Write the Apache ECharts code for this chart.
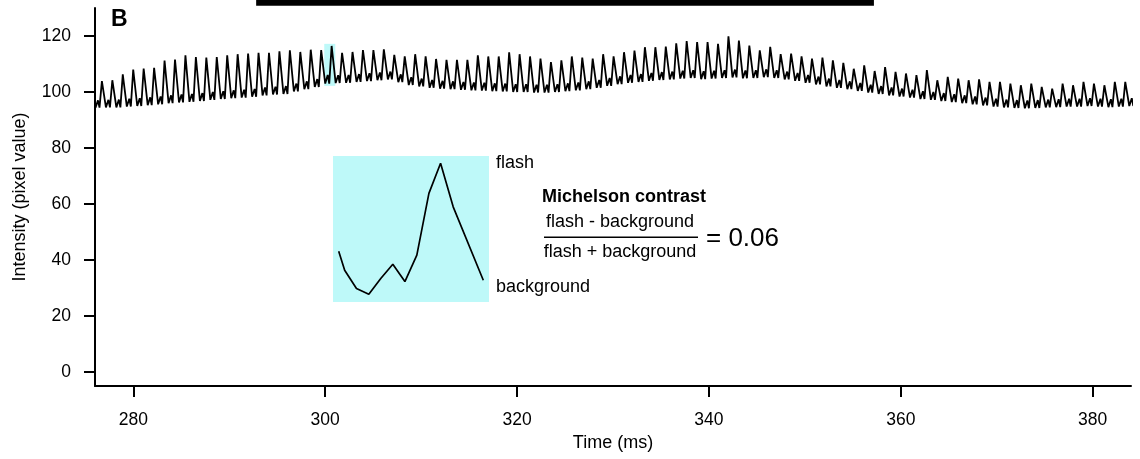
<!DOCTYPE html>
<html>
<head>
<meta charset="utf-8">
<script src="https://cdn.jsdelivr.net/npm/echarts@6/dist/echarts.min.js"></script>
<style>
  html, body { margin: 0; padding: 0; background: #fff; }
  #chart { width: 1140px; height: 459px; }
</style>
</head>
<body>
<div id="chart"></div>
<script>
// Axis ranges and tick labels
const xRange = [276, 384];
const yRange = [-5, 130];
const xTicks = [280, 300, 320, 340, 360, 380];
const yTicks = [0, 20, 40, 60, 80, 100, 120];

// Flicker trace: one entry per cycle (peak time of cycle k = firstPeak + k * period)
const firstPeak = 275.63;   // ms
const period = 1.0886;      // ms
const peaks = [
  100.0,
  103.9, 104.2, 106.3, 108.0, 108.4, 108.6, 111.2, 111.6, 113.1, 112.5,
  112.3, 112.5, 113.1, 113.5, 113.7, 114.0, 114.0, 114.5, 114.9, 114.3,
  115.1, 115.0, 116.45, 114.0, 114.3, 115.0, 115.0,
  115.2, 113.3, 112.7, 113.5, 112.7, 111.8, 111.5, 111.5, 111.5, 113.1,
  112.7, 112.7, 114.2, 113.5, 112.7, 111.9, 110.7, 111.3, 112.7, 112.3,
  111.9, 113.5, 112.7, 114.2, 114.8, 116.0, 116.0, 116.2, 117.4, 118.2,
  117.8, 117.8, 117.2, 119.9, 118.4, 116.6,
  114.9, 116.1, 113.5, 113.7, 112.7, 111.9, 112.3, 111.3, 110.4, 108.3,
  109.5, 107.5, 108.9, 107.2, 106.6, 106.0, 107.8, 104.2, 105.4, 104.8,
  104.2, 104.5, 103.6, 103.6, 103.0, 102.4, 103.0, 101.8, 101.2, 103.0,
  102.4, 103.6, 103.0, 102.4, 103.6, 103.6
];
// valley floor after each peak
const lows = [
  94.4,
  94.5, 94.5, 94.8, 95.0, 95.3, 95.6, 96.0, 96.3, 96.5, 96.8,
  97.2, 97.5, 97.8, 98.0, 98.3, 98.8, 99.1, 99.3, 100.2, 101.0,
  101.8, 103.0, 103.2, 103.3, 103.6, 103.9, 104.2,
  104.5, 103.5, 102.5, 102.0, 101.5, 101.2, 101.0, 100.8, 100.6, 100.5,
  100.3, 100.2, 100.0, 100.0, 99.8, 99.8, 100.0, 100.3, 100.6, 101.0,
  101.5, 102.2, 102.8, 103.3, 103.6, 104.0, 104.3, 104.5, 104.8, 105.0,
  104.6, 104.8, 105.0, 105.2, 104.9, 105.0,
  105.3, 105.0, 104.5, 104.0, 103.3, 102.7, 102.0, 101.5, 101.0, 100.4,
  99.8, 99.3, 98.8, 98.4, 98.0, 97.5, 97.2, 96.8, 96.4, 96.0,
  95.6, 95.2, 94.8, 94.5, 94.3, 94.2, 94.3, 94.5, 94.6, 94.8,
  94.8, 95.0, 94.8, 94.6, 94.8, 95.0
];
// small secondary bump inside each valley
const bumps = [
  97.0,
  97.2, 97.3, 97.6, 97.8, 98.1, 98.4, 98.8, 99.1, 99.3, 99.6,
  100.0, 100.3, 100.6, 100.8, 101.1, 101.6, 101.9, 102.1, 103.0, 103.8,
  104.6, 106.1, 106.0, 106.1, 106.4, 106.7, 107.0,
  107.3, 106.3, 105.3, 104.8, 104.3, 104.0, 103.8, 103.6, 103.4, 103.3,
  103.1, 103.0, 102.8, 102.8, 102.6, 102.6, 102.8, 103.1, 103.4, 103.8,
  104.3, 105.0, 105.6, 106.1, 106.4, 106.8, 107.1, 107.3, 107.6, 107.8,
  107.4, 107.6, 107.8, 108.0, 107.7, 107.8,
  108.1, 107.8, 107.3, 106.8, 106.1, 105.5, 104.8, 104.3, 103.8, 103.2,
  102.6, 102.1, 101.6, 101.2, 100.8, 100.3, 100.0, 99.6, 99.2, 98.8,
  98.4, 98.0, 97.6, 97.3, 97.1, 97.0, 97.1, 97.3, 97.4, 97.6,
  97.6, 97.8, 97.6, 97.4, 97.6, 97.8
];
// phase (ms after the peak) of the valley floor, bump and pre-rise dip
const phaseLow = 0.42, phaseBump = 0.68, phaseDip = 0.84;

// Magnified single flash (time in ms, intensity)
const flashTimes = [299.942, 299.986, 300.073, 300.164, 300.252, 300.341,
                    300.430, 300.518, 300.607, 300.693, 300.786, 301.008];
const flashValues = [107.42, 105.46, 103.58, 102.99, 104.61, 106.08,
                     104.30, 107.01, 113.36, 116.45, 111.98, 104.43];
// window of the trace shown magnified
const zoomX = [299.9, 301.05];
const zoomY = [102.2, 117.2];

// stimulus bar above the plot (ms)
const stimulus = [292.8, 357.2];

const FONT = '"Liberation Sans", Arial, Helvetica, sans-serif';
const CYAN = '#bef9f9';

const trace = [];
for (let k = 0; k < peaks.length; k++) {
  const t = firstPeak + k * period;
  trace.push([t, peaks[k]]);
  trace.push([t + phaseLow, lows[k]]);
  trace.push([t + phaseBump, bumps[k]]);
  trace.push([t + phaseDip, lows[k]]);
}
const flash = flashTimes.map((t, i) => [t, flashValues[i]]);
const fMax = Math.max(...flashValues), fMin = Math.min(...flashValues);
const contrast = (fMax - fMin) / (fMax + fMin);

const chart = echarts.init(document.getElementById('chart'), null, { renderer: 'canvas' });

const axisCommon = {
  axisLine: { onZero: false, lineStyle: { color: '#000', width: 2 } },
  splitLine: { show: false },
  nameTextStyle: { fontSize: 18, color: '#000', fontFamily: FONT }
};

const option = {
  animation: false,
  backgroundColor: '#fff',
  grid: [
    { left: 95, right: 9, top: 8, bottom: 73 },
    { left: 333, top: 156, width: 156, height: 146, show: true,
      backgroundColor: CYAN, borderWidth: 0 }
  ],
  xAxis: [
    Object.assign({}, axisCommon, {
      type: 'value', min: xRange[0], max: xRange[1],
      name: 'Time (ms)', nameLocation: 'middle', nameGap: 45,
      axisTick: { customValues: xTicks, length: 11, lineStyle: { color: '#000', width: 2 } },
      axisLabel: { customValues: xTicks, margin: 25, fontSize: 17.5, color: '#000', fontFamily: FONT }
    }),
    { type: 'value', gridIndex: 1, min: zoomX[0], max: zoomX[1], show: false, splitLine: { show: false } }
  ],
  yAxis: [
    Object.assign({}, axisCommon, {
      type: 'value', min: yRange[0], max: yRange[1],
      name: 'Intensity (pixel value)', nameLocation: 'middle', nameGap: 66,
      axisTick: { customValues: yTicks, length: 11, lineStyle: { color: '#000', width: 2 } },
      axisLabel: { customValues: yTicks, margin: 24, fontSize: 17.5, color: '#000', fontFamily: FONT }
    }),
    { type: 'value', gridIndex: 1, min: zoomY[0], max: zoomY[1], show: false, splitLine: { show: false } }
  ],
  series: [
    {
      type: 'line', xAxisIndex: 0, yAxisIndex: 0, data: trace,
      symbol: 'none', lineStyle: { color: '#000', width: 1.8 }, z: 3,
      markArea: {
        silent: true,
        itemStyle: { color: CYAN },
        data: [[{ coord: [zoomX[0], zoomY[0]] }, { coord: [zoomX[1], zoomY[1]] }]]
      }
    },
    {
      type: 'line', xAxisIndex: 1, yAxisIndex: 1, data: flash,
      symbol: 'none', lineStyle: { color: '#000', width: 1.7 }, z: 3
    }
  ]
};
chart.setOption(option);

// stimulus bar and annotations
const barL = chart.convertToPixel({ xAxisIndex: 0 }, stimulus[0]);
const barR = chart.convertToPixel({ xAxisIndex: 0 }, stimulus[1]);
const txt = (x, y, text, extra) => ({
  type: 'text', x, y, silent: true,
  style: Object.assign({ text, fill: '#000', font: '18px ' + FONT, textVerticalAlign: 'middle' }, extra || {})
});
chart.setOption({
  graphic: [
    { type: 'rect', shape: { x: barL, y: 0, width: barR - barL, height: 5.7 }, style: { fill: '#000' }, silent: true },
    txt(111, 19.5, 'B', { font: 'bold 23px ' + FONT }),
    txt(496, 163, 'flash'),
    txt(496, 287, 'background'),
    txt(624, 197, 'Michelson contrast', { font: 'bold 18px ' + FONT, textAlign: 'center' }),
    txt(620, 222, 'flash - background', { textAlign: 'center' }),
    { type: 'line', shape: { x1: 544, y1: 237.3, x2: 698, y2: 237.3 }, style: { stroke: '#000', lineWidth: 1.5 }, silent: true },
    txt(620, 252, 'flash + background', { textAlign: 'center' }),
    txt(706, 238.5, '= ' + contrast.toFixed(2), { font: '26px ' + FONT })
  ]
});
</script>
</body>
</html>
